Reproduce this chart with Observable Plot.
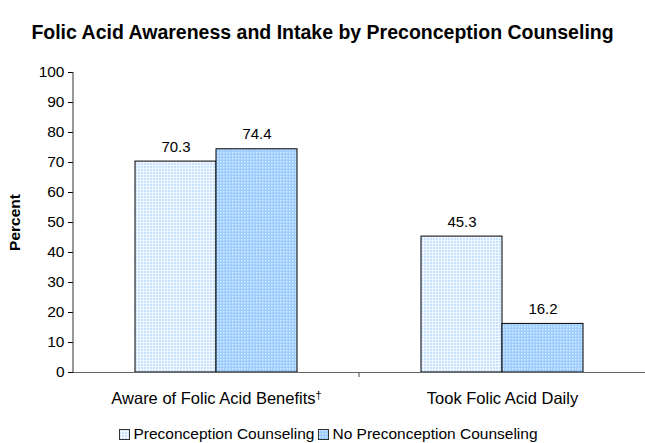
<!DOCTYPE html>
<html>
<head>
<meta charset="utf-8">
<script src="https://cdn.jsdelivr.net/npm/d3@7"></script>
<script src="https://cdn.jsdelivr.net/npm/@observablehq/plot@0.6"></script>
<style>
  html, body { margin: 0; padding: 0; background: #fff; }
  body { width: 645px; height: 443px; overflow: hidden; font-family: "Liberation Sans", Arial, sans-serif; }
  #title { height: 55px; box-sizing: border-box; padding-top: 21px; text-align: center; font-weight: bold; font-size: 19.5px; line-height: 22px; color: #000; white-space: nowrap; }
  #legend { text-align: center; font-size: 15.5px; line-height: 18px; color: #000; margin-top: 13px; padding-left: 12px; white-space: nowrap; }
  #legend span.item { display: inline-flex; align-items: center; margin: 0 2px; }
  #legend svg { margin-right: 3px; }
  g[aria-label="y-axis label"] text { font-weight: bold; }
</style>
</head>
<body>
<div id="title">Folic Acid Awareness and Intake by Preconception Counseling</div>
<div id="chart"></div>
<div id="legend"></div>
<script>
const categories = ["Aware of Folic Acid Benefits", "Took Folic Acid Daily"];
const series = ["Preconception Counseling", "No Preconception Counseling"];
const preconception = [70.3, 45.3];
const noPreconception = [74.4, 16.2];
const yTicks = [0, 10, 20, 30, 40, 50, 60, 70, 80, 90, 100];
const categoryLabels = ["Aware of Folic Acid Benefits\u2020", "Took Folic Acid Daily"];

const patternIds = ["patPre", "patNo"];
const patternFill = patternIds.map(id => `url(#${id})`);

const data = [];
categories.forEach((c, i) => {
  data.push({category: c, series: series[0], value: preconception[i]});
  data.push({category: c, series: series[1], value: noPreconception[i]});
});

const defs = `
<defs>
  <pattern id="patPre" width="3" height="3" patternUnits="userSpaceOnUse">
    <rect width="3" height="3" fill="#f3f9ff"/>
    <rect x="0" y="0" width="2" height="2" fill="#c6e2ff"/>
  </pattern>
  <pattern id="patNo" width="3" height="3" patternUnits="userSpaceOnUse">
    <rect width="3" height="3" fill="#9dcdff"/>
    <rect x="1" y="1" width="1.5" height="1.5" fill="#d6ebff"/>
  </pattern>
</defs>`;

const plot = Plot.plot({
  width: 645,
  height: 357,
  marginLeft: 73,
  marginRight: 0,
  marginTop: 17,
  marginBottom: 40,
  style: {fontFamily: "'Liberation Sans', Arial, sans-serif", fontSize: "15px", color: "#000", background: "#fff"},
  fx: {domain: categories, paddingInner: 0, paddingOuter: 0, label: null},
  x: {domain: series, paddingInner: 0, paddingOuter: 0.755, axis: null},
  y: {domain: [0, 100], ticks: yTicks, label: "Percent"},
  color: {domain: series, range: patternFill},
  marks: [
    Plot.axisY({ticks: yTicks, tickSize: 5, tickPadding: 4, label: "Percent", labelAnchor: "center", labelArrow: "none", labelOffset: 65, fontSize: 15.5}),
    Plot.barY(data, {fx: "category", x: "series", y: "value", fill: "series", stroke: "#000", strokeWidth: 1}),
    Plot.text(data, {fx: "category", x: "series", y: "value", text: d => d.value.toFixed(1), lineAnchor: "bottom", dy: -10, fontSize: 15, fill: "#000"}),
    Plot.ruleY([0], {stroke: "#666", strokeWidth: 1.2}),
    Plot.axisFx({anchor: "bottom", tickSize: 0, tickPadding: 20, tickFormat: d => categoryLabels[categories.indexOf(d)], fontSize: 16.5, label: null})
  ]
});

d3.select(plot).insert(() => new DOMParser().parseFromString(`<svg xmlns="http://www.w3.org/2000/svg">${defs}</svg>`, "image/svg+xml").documentElement.firstElementChild, ":first-child");

const fx = plot.scale("fx");
const yS = plot.scale("y");
const left = fx.apply(categories[0]);
// y axis line
d3.select(plot).append("line")
  .attr("x1", left).attr("x2", left)
  .attr("y1", yS.apply(100)).attr("y2", yS.apply(0))
  .attr("stroke", "#333").attr("stroke-width", 1);
// boundary tick between categories
const boundary = fx.apply(categories[1]);
d3.select(plot).append("line")
  .attr("x1", boundary).attr("x2", boundary)
  .attr("y1", yS.apply(0)).attr("y2", yS.apply(0) + 5)
  .attr("stroke", "#666").attr("stroke-width", 1.2);

// superscript dagger
d3.select(plot).selectAll('g[aria-label="fx-axis tick label"] text').each(function() {
  const t = this.textContent;
  if (t.endsWith("\u2020")) {
    const el = d3.select(this);
    el.text(null);
    el.append("tspan").text(t.slice(0, -1));
    el.append("tspan").attr("dy", "-0.5em").attr("font-size", "11px").text("\u2020");
  }
});

document.getElementById("chart").appendChild(plot);

const legend = document.getElementById("legend");
series.forEach((s, i) => {
  const item = document.createElement("span");
  item.className = "item";
  item.innerHTML = `<svg width="11" height="11"><defs>${defs.replace(/id="(pat\w+)"/g, 'id="L$1"').replace(/<\/?defs>/g, "")}</defs><rect x="0.5" y="0.5" width="10" height="10" fill="url(#L${patternIds[i]})" stroke="#333"/></svg>${s}`;
  legend.appendChild(item);
});
</script>
</body>
</html>
